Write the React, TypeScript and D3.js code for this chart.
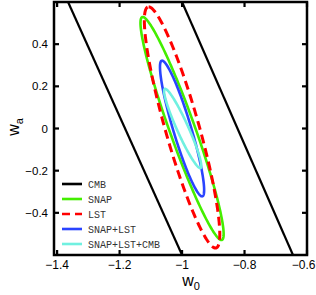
import React, { useEffect, useRef } from 'react';
import * as d3 from 'd3';

// legend entries, top to bottom
const seriesNames = ['CMB', 'SNAP', 'LST', 'SNAP+LST', 'SNAP+LST+CMB'];

// ellipses: centre, offset to top tip, horizontal half width at centre row
const ellipseNames = ['SNAP', 'LST', 'SNAP+LST', 'SNAP+LST+CMB'];
const centerW0 = [-1.0, -1.0, -1.0, -0.998];
const centerWa = [0.0, 0.005, 0.0, 0.0];
const tipDw0 = [-0.126, -0.107, -0.064, -0.056];
const tipDwa = [0.529, 0.572, 0.322, 0.188];
const halfWidthW0 = [0.043, 0.056, 0.030, 0.020];

// CMB degeneracy band edges [w0, wa]
const cmbLeft: [number, number][] = [[-1.365, 0.6], [-1.0, -0.6]];
const cmbRight: [number, number][] = [[-1.0, 0.6], [-0.645, -0.6]];

const xTicks = [-1.4, -1.2, -1, -0.8, -0.6];
const yTicks = [-0.4, -0.2, 0, 0.2, 0.4];

const colors: Record<string, string> = {
  CMB: '#000000',
  SNAP: '#44ee00',
  LST: '#ff0000',
  'SNAP+LST': '#2a44ff',
  'SNAP+LST+CMB': '#70f0e0',
};

const App: React.FC = () => {
  const ref = useRef<SVGSVGElement | null>(null);

  useEffect(() => {
    const width = 316;
    const height = 295;
    const left = 54, right = 307, top = 2, bottom = 255;

    const svg = d3.select(ref.current)
      .attr('width', width)
      .attr('height', height);
    svg.selectAll('*').remove();

    const x = d3.scaleLinear().domain([-1.41, -0.6]).range([left, right]);
    const y = d3.scaleLinear().domain([-0.6, 0.6]).range([bottom, top]);

    svg.append('defs').append('clipPath').attr('id', 'plotclip')
      .append('rect')
      .attr('x', left).attr('y', top)
      .attr('width', right - left).attr('height', bottom - top);

    const plot = svg.append('g').attr('clip-path', 'url(#plotclip)');

    const line = d3.line<[number, number]>()
      .x(d => x(d[0]))
      .y(d => y(d[1]));

    [cmbLeft, cmbRight].forEach(seg => {
      plot.append('path')
        .attr('d', line(seg))
        .attr('fill', 'none')
        .attr('stroke', colors.CMB)
        .attr('stroke-width', 2.2);
    });

    const ts = d3.range(0, 2 * Math.PI, Math.PI / 90);
    const closed = d3.line<[number, number]>()
      .x(d => x(d[0]))
      .y(d => y(d[1]))
      .curve(d3.curveLinearClosed);

    ellipseNames.forEach((name, i) => {
      const pts: [number, number][] = ts.map(t => [
        centerW0[i] + Math.cos(t) * tipDw0[i] + Math.sin(t) * halfWidthW0[i],
        centerWa[i] + Math.cos(t) * tipDwa[i],
      ]);
      plot.append('path')
        .attr('d', closed(pts))
        .attr('fill', 'none')
        .attr('stroke', colors[name])
        .attr('stroke-width', name === 'LST' ? 3 : 2.6)
        .attr('stroke-dasharray', name === 'LST' ? '9,5' : null);
    });

    // frame
    svg.append('rect')
      .attr('x', left).attr('y', top)
      .attr('width', right - left).attr('height', bottom - top)
      .attr('fill', 'none')
      .attr('stroke', '#000')
      .attr('stroke-width', 2.5);

    const tickLen = 5;
    const ticks = svg.append('g').attr('stroke', '#000').attr('stroke-width', 2.2);
    xTicks.forEach(v => {
      ticks.append('line').attr('x1', x(v)).attr('x2', x(v)).attr('y1', bottom).attr('y2', bottom - tickLen);
      ticks.append('line').attr('x1', x(v)).attr('x2', x(v)).attr('y1', top).attr('y2', top + tickLen);
    });
    yTicks.forEach(v => {
      ticks.append('line').attr('x1', left).attr('x2', left + tickLen).attr('y1', y(v)).attr('y2', y(v));
      ticks.append('line').attr('x1', right).attr('x2', right - tickLen).attr('y1', y(v)).attr('y2', y(v));
    });

    const fmt = (v: number) => (v === 0 ? '0' : d3.format('')(v));

    // last label sits on the page edge, as in the original
    const xLabels = svg.append('g')
      .selectAll('text')
      .data(xTicks)
      .enter()
      .append('text')
      .attr('x', d => x(d))
      .attr('y', bottom + 14)
      .attr('text-anchor', 'middle')
      .attr('font-family', 'Liberation Sans, Arial, sans-serif')
      .attr('font-size', 12)
      .text(d => fmt(d));
    xLabels.filter((_d, i) => i === xTicks.length - 1)
      .attr('x', width - 0.5)
      .attr('text-anchor', 'end');

    svg.append('g')
      .selectAll('text')
      .data(yTicks)
      .enter()
      .append('text')
      .attr('x', left - 6)
      .attr('y', d => y(d))
      .attr('dy', '0.35em')
      .attr('text-anchor', 'end')
      .attr('font-family', 'Liberation Sans, Arial, sans-serif')
      .attr('font-size', 11.5)
      .text(d => fmt(d));

    // axis titles
    const xl = svg.append('text')
      .attr('x', 191)
      .attr('y', 286)
      .attr('text-anchor', 'middle')
      .attr('font-family', 'Liberation Sans, Arial, sans-serif')
      .attr('font-size', 16);
    xl.append('tspan').text('w');
    xl.append('tspan').attr('font-size', 11).attr('dy', 4).text('0');

    const yl = svg.append('text')
      .attr('transform', 'translate(19,127) rotate(-90)')
      .attr('text-anchor', 'middle')
      .attr('font-family', 'Liberation Sans, Arial, sans-serif')
      .attr('font-size', 16);
    yl.append('tspan').text('w');
    yl.append('tspan').attr('font-size', 11).attr('dy', 4).text('a');

    // legend
    const legend = svg.append('g');
    seriesNames.forEach((name, i) => {
      const ly = 184 + i * 15;
      legend.append('line')
        .attr('x1', 62).attr('x2', 82)
        .attr('y1', ly).attr('y2', ly)
        .attr('stroke', colors[name])
        .attr('stroke-width', 2.6)
        .attr('stroke-dasharray', name === 'LST' ? '8,5' : null);
      legend.append('text')
        .attr('x', 88)
        .attr('y', ly)
        .attr('dy', '0.35em')
        .attr('font-family', 'Liberation Mono, Courier New, monospace')
        .attr('font-size', 10)
        .attr('fill', '#333')
        .text(name);
    });
  }, []);

  return <svg ref={ref} style={{ position: 'absolute', left: 0, top: 0 }}></svg>;
};

export default App;
